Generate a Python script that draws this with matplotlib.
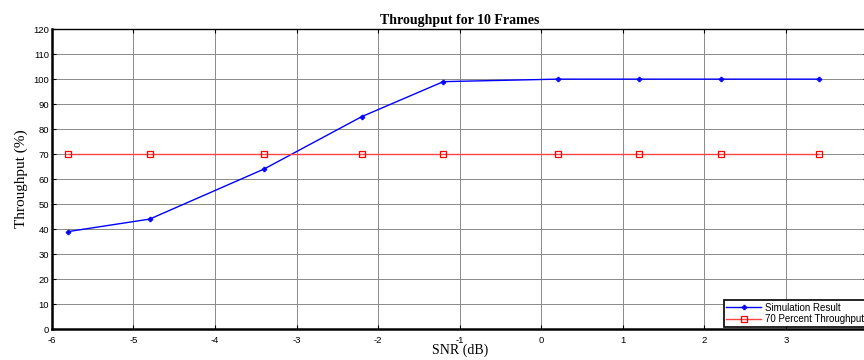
import matplotlib.pyplot as plt

plt.rcParams["axes.unicode_minus"] = False

snr_db = [-5.8, -4.8, -3.4, -2.2, -1.2, 0.2, 1.2, 2.2, 3.4]
throughput = [39, 44, 64, 85, 99, 100, 100, 100, 100]
target = [70, 70, 70, 70, 70, 70, 70, 70, 70]

x_ticks = [-6, -5, -4, -3, -2, -1, 0, 1, 2, 3]
y_ticks = list(range(0, 121, 10))

fig = plt.figure(figsize=(8.64, 3.6), dpi=100)
ax = fig.add_axes([0.060, 0.086, 0.944, 0.833])

ax.plot(snr_db, throughput, color="#0000ff", linewidth=1.0, marker="P",
        markersize=3.5, markeredgewidth=0.4, label="Simulation Result")
ax.plot(snr_db, target, color="#ff4444", linewidth=1.0, marker="s",
        markersize=5, markerfacecolor="none", markeredgecolor="#ff0000",
        markeredgewidth=0.9, label="70 Percent Throughput")

ax.set_xlim(-6, 4)
ax.set_ylim(0, 120)
ax.set_xticks(x_ticks)
ax.set_yticks(y_ticks)
ax.grid(True, color="#8a8a8a", linewidth=0.7, linestyle="-")
ax.set_axisbelow(True)

ax.tick_params(direction="in", top=True, right=True, length=3, width=0.8,
               labelsize=6.8)
ax.tick_params(axis="x", pad=5)
ax.tick_params(axis="y", pad=2)
for lab in ax.get_xticklabels() + ax.get_yticklabels():
    lab.set_family("Liberation Sans")

ax.spines["left"].set_linewidth(1.8)
ax.spines["bottom"].set_linewidth(1.8)
ax.spines["top"].set_linewidth(1.0)

ax.set_title("Throughput for 10 Frames", family="Liberation Serif",
             fontweight="bold", fontsize=10, pad=4)
ax.set_xlabel("SNR (dB)", family="Liberation Serif", fontsize=10, labelpad=-1)
ax.set_ylabel("Throughput (%)", family="Liberation Serif", fontsize=11, labelpad=4)

leg = ax.legend(loc="lower right", bbox_to_anchor=(1.0, 0.005),
                prop={"family": "Liberation Sans", "size": 7},
                fancybox=False, edgecolor="black", framealpha=1,
                borderpad=0.25, labelspacing=0.15, handlelength=3.6,
                handletextpad=0.4, borderaxespad=0.1)
leg.get_frame().set_linewidth(1.2)

fig.savefig("out.png", dpi=100)
